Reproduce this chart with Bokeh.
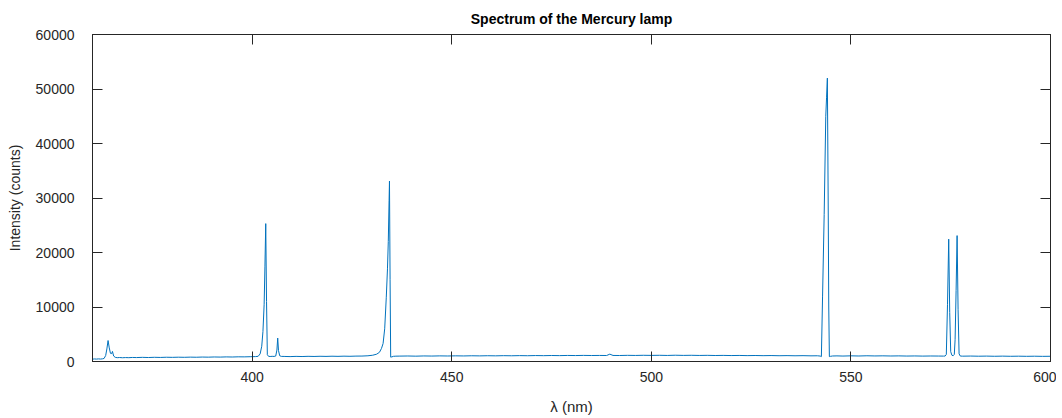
from bokeh.plotting import figure
from bokeh.models import Range1d, LinearAxis, FixedTicker, ColumnDataSource
from bokeh.embed import file_html
from bokeh.resources import INLINE

# ---- data (wavelength in nm, intensity in counts) ----
uv_wl = [360.0, 360.5, 361.0, 361.5, 362.0, 362.5, 362.9, 363.3, 363.6, 363.9, 364.2,
         364.5, 364.8, 365.0, 365.3, 365.7, 366.2, 366.8, 367.5, 368.3, 369.1, 370.0]
uv_ct = [430, 470, 440, 480, 450, 490, 560, 1100, 2300, 3850, 2500,
         1500, 1450, 1850, 1000, 760, 700, 730, 690, 720, 700, 740]

violet_wl = [371.0, 372.5, 374.0, 375.5, 377.0, 378.5, 380.0, 381.5, 383.0, 384.5, 386.0,
             387.5, 389.0, 390.5, 392.0, 393.5, 395.0, 396.5, 398.0, 399.5, 400.8]
violet_ct = [720, 760, 730, 770, 745, 780, 760, 790, 770, 800, 780,
             815, 795, 830, 810, 845, 825, 860, 850, 880, 900]

p404_wl = [401.5, 402.0, 402.4, 402.7, 403.0, 403.2, 403.4, 403.6, 403.8, 404.1, 404.5,
           405.0, 405.5, 405.9, 406.2, 406.4, 406.6, 406.9, 407.3]
p404_ct = [950, 1400, 2800, 5500, 10500, 17500, 25300, 11000, 1250, 950, 920,
           950, 930, 1000, 2100, 4300, 2000, 1050, 940]

blue_wl = [408.0, 409.5, 411.0, 412.5, 414.0, 415.5, 417.0, 418.5, 420.0, 421.5, 423.0,
           424.5, 426.0, 427.5, 429.0, 430.2, 431.2]
blue_ct = [930, 900, 940, 910, 950, 925, 960, 935, 970, 945, 980,
           955, 990, 1000, 1050, 1150, 1350]

p435_wl = [431.9, 432.4, 432.8, 433.2, 433.6, 433.9, 434.1, 434.3, 434.4, 434.55, 434.7,
           435.0, 435.4, 436.0]
p435_ct = [1700, 2400, 3300, 6000, 11800, 17000, 22000, 29500, 33100, 15000, 800,
           850, 950, 980]

green_wl = [437, 439, 441, 443, 445, 447, 449, 451, 453, 455, 457, 459, 461, 463, 465,
            467, 469, 471, 473, 475, 477, 479, 481, 483, 485, 487, 488.8, 489.6, 490.4,
            492, 494, 496, 498, 500, 502, 504, 506, 508, 510, 512, 514, 516, 518, 520,
            522, 524, 526, 528, 530, 532, 534, 536, 538, 540, 541.6]
green_ct = [990, 1010, 980, 1020, 1000, 1030, 1010, 1040, 1020, 1050, 1030, 1060, 1040, 1070, 1050,
            1080, 1060, 1090, 1070, 1100, 1080, 1110, 1090, 1120, 1100, 1110, 1100, 1350, 1110,
            1100, 1130, 1110, 1140, 1120, 1140, 1110, 1150, 1120, 1140, 1110, 1130, 1100, 1120, 1090,
            1110, 1080, 1100, 1070, 1090, 1060, 1080, 1050, 1070, 1040, 1050]

p546_wl = [542.3, 542.6, 542.9, 543.3, 543.7, 543.9, 544.1, 544.3, 544.45, 544.6, 544.9, 545.4]
p546_ct = [1000, 900, 12000, 27000, 45000, 48500, 52000, 30000, 10000, 900, 950, 1010]

yellow_wl = [546.5, 548, 550, 552, 554, 556, 558, 560, 562, 564, 566, 568, 570, 572, 573.2]
yellow_ct = [1030, 1000, 1040, 1010, 1050, 1020, 1040, 1010, 1030, 1000, 1020, 990, 1010, 1000, 990]

doublet_wl = [573.6, 573.9, 574.2, 574.5, 574.75, 575.0, 575.3, 575.6, 575.9, 576.1, 576.35,
              576.6, 576.85, 577.1, 577.4]
doublet_ct = [1000, 1300, 10500, 22450, 9000, 1800, 1150, 1050, 1300, 4000, 13000,
              23100, 9500, 1400, 1000]

red_wl = [578, 580, 582, 584, 586, 588, 590, 592, 594, 596, 598, 600]
red_ct = [980, 1000, 970, 990, 960, 985, 955, 975, 950, 970, 945, 960]

x_ticks = [400, 450, 500, 550, 600]
y_ticks = [0, 10000, 20000, 30000, 40000, 50000, 60000]

TITLE = "Spectrum of the Mercury lamp"
XLABEL = "λ (nm)"
YLABEL = "Intensity (counts)"

# ---- assemble ----
wl = uv_wl + violet_wl + p404_wl + blue_wl + p435_wl + green_wl + p546_wl + yellow_wl + doublet_wl + red_wl
ct = uv_ct + violet_ct + p404_ct + blue_ct + p435_ct + green_ct + p546_ct + yellow_ct + doublet_ct + red_ct
src = ColumnDataSource(dict(wl=wl, ct=ct))

FONT = "Liberation Sans"
AXC = "#262626"

p = figure(frame_width=958, frame_height=327,
           x_range=Range1d(360, 600), y_range=Range1d(0, 60000),
           output_backend="svg", toolbar_location=None, title=TITLE,
           min_border_left=92, min_border_right=6, min_border_top=33, min_border_bottom=50)

p.line("wl", "ct", source=src, line_color="#0072BD", line_width=1)

p.grid.visible = False
p.outline_line_color = AXC
p.background_fill_color = "white"
p.border_fill_color = "white"

p.title.text_font = FONT
p.title.text_font_size = "14px"
p.title.text_font_style = "bold"
p.title.align = "center"
p.title.text_color = "black"
p.title.standoff = 16

def style(ax, labels=True):
    ax.axis_line_color = AXC
    ax.axis_line_width = 1
    ax.major_tick_line_color = AXC
    ax.major_tick_in = 10
    ax.major_tick_out = 0
    ax.minor_tick_line_color = None
    ax.major_label_text_font = FONT
    ax.major_label_text_color = AXC
    ax.axis_label_text_font = FONT
    ax.axis_label_text_color = AXC
    ax.axis_label_text_font_style = "normal"
    if not labels:
        ax.major_label_text_font_size = "1px"
        ax.major_label_text_color = None
        ax.major_label_standoff = 0

xa = p.xaxis[0]
ya = p.yaxis[0]
xa.ticker = FixedTicker(ticks=x_ticks)
ya.ticker = FixedTicker(ticks=y_ticks)
style(xa)
style(ya)
xa.major_label_text_font_size = "14px"
ya.major_label_text_font_size = "14px"
xa.major_label_standoff = 10
ya.major_label_standoff = 18
xa.axis_label = XLABEL
ya.axis_label = YLABEL
xa.axis_label_text_font_size = "15px"
ya.axis_label_text_font_size = "14px"
xa.axis_label_standoff = 13
ya.axis_label_standoff = 10

top = LinearAxis(ticker=FixedTicker(ticks=x_ticks))
right = LinearAxis(ticker=FixedTicker(ticks=y_ticks))
style(top, labels=False)
style(right, labels=False)
p.add_layout(top, "above")
p.add_layout(right, "right")

open("out.html", "w").write(file_html(p, INLINE))
